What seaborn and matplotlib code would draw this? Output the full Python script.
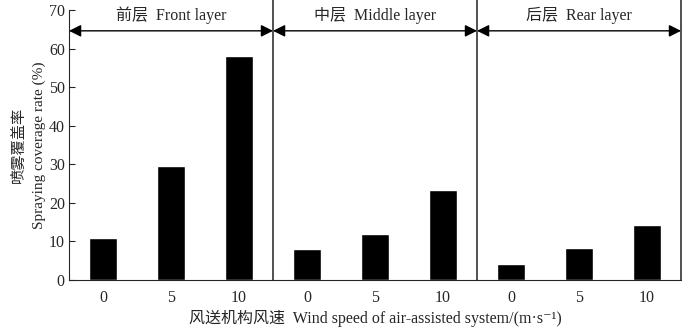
import matplotlib
matplotlib.use("Agg")
import matplotlib.pyplot as plt
import pandas as pd
import seaborn as sns

# 读图估计的数据
layers = ["前层  Front layer", "中层  Middle layer", "后层  Rear layer"]
speeds = ["0", "5", "10"]
front = [10.9, 29.5, 58.1]
middle = [8.0, 11.9, 23.3]
rear = [4.2, 8.3, 14.3]

rows = []
for layer, vals in zip(layers, [front, middle, rear]):
    for s, v in zip(speeds, vals):
        rows.append({"pos": layer + "|" + s, "speed": s, "rate": v})
df = pd.DataFrame(rows)

sns.set_style("ticks")
plt.rcParams["font.family"] = ["Liberation Serif", "Noto Sans CJK SC", "DejaVu Serif"]

fig = plt.figure(figsize=(7, 3.3), dpi=100)
ax = fig.add_axes([0.0986, 0.1515, 0.8743, 0.8182])

sns.barplot(data=df, x="pos", y="rate", color="black", saturation=1,
            width=0.42, ax=ax)

ax.set_xlim(-0.5, 8.5)
ax.set_ylim(0, 70)
ax.set_yticks(range(0, 71, 10))
ax.set_xticks(range(9))
ax.set_xticklabels(df["speed"], fontsize=11.5)
ax.tick_params(axis="x", length=0, pad=7)
ax.tick_params(axis="y", direction="in", length=4, labelsize=11.5, pad=3)

for sp in ["top", "right"]:
    ax.spines[sp].set_visible(False)

# 分区竖线 + 双向箭头 + 标签
for i, layer in enumerate(layers):
    x0 = i * 3 - 0.5
    x1 = x0 + 3
    ax.plot([x1, x1], [0, 72.5], color="#333333", lw=1.2, clip_on=False)
    ax.annotate("", xy=(x0, 64.6), xytext=(x1, 64.6),
                arrowprops=dict(arrowstyle="<|-|>", color="black", lw=1,
                                mutation_scale=18, shrinkA=0, shrinkB=0))
    ax.text((x0 + x1) / 2, 68.6, layer, ha="center", va="center", fontsize=11.5)

ax.set_ylabel("喷雾覆盖率\nSpraying coverage rate (%)", fontsize=11,
              labelpad=2, linespacing=1.7)
ax.set_xlabel("风送机构风速  Wind speed of air-assisted system/(m·s⁻¹)",
              fontsize=11.5, labelpad=3)

fig.savefig("out.png", dpi=100)
